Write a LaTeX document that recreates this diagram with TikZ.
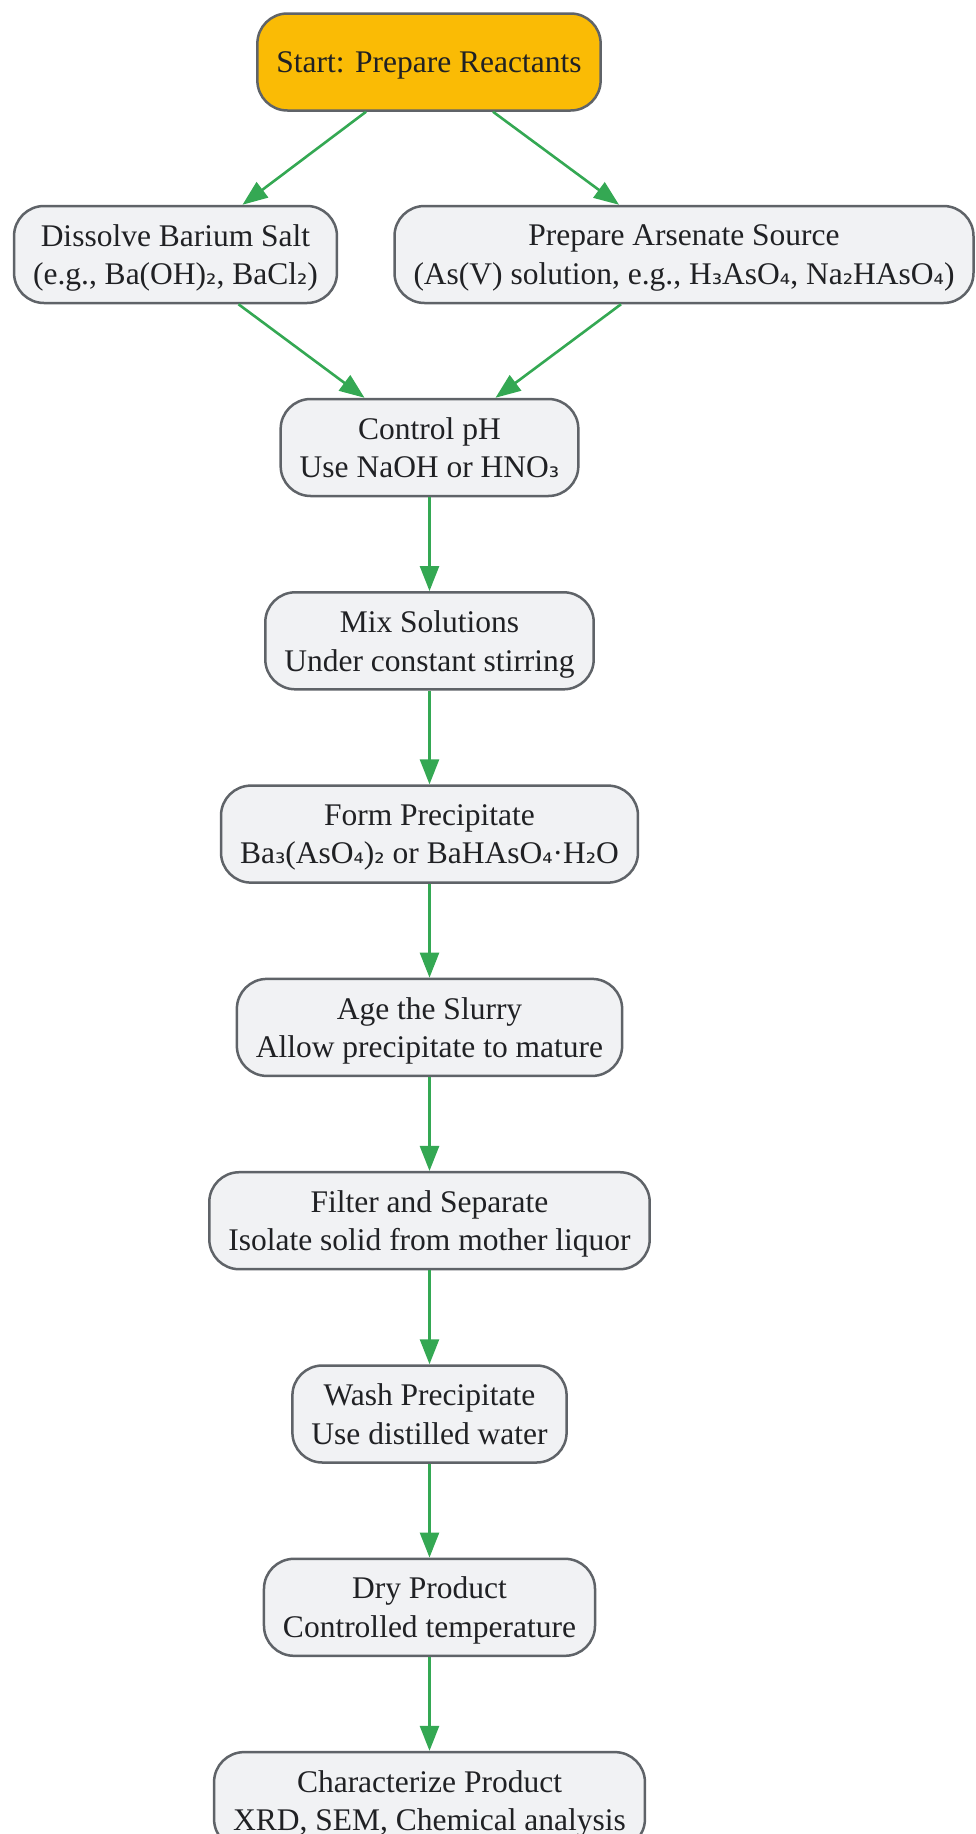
\documentclass[tikz,border=0pt]{standalone}
\usepackage{fontspec}
\setmainfont{Liberation Serif}
\newfontfamily\subdigits{DejaVu Sans}[Scale=0.82]
\newcommand{\low}[1]{{\subdigits #1}}
\usetikzlibrary{arrows.meta,positioning}
\definecolor{startfill}{HTML}{FABB05}
\definecolor{stepfill}{HTML}{F1F2F4}
\definecolor{boxline}{HTML}{5F6368}
\definecolor{flowgreen}{HTML}{34A853}
\definecolor{boxtext}{HTML}{202124}
\tikzset{
  basic/.style    = {draw=boxline, line width=2.5pt, rectangle, rounded corners=30pt,
                     align=center, minimum height=97pt, inner xsep=19pt, text depth=-1pt,
                     text=boxtext, font=\fontsize{31.5}{38.6}\selectfont},
  startbox/.style = {basic, fill=startfill},
  stepbox/.style  = {basic, fill=stepfill},
  flow/.style     = {-{Triangle[length=25pt,width=19pt]}, draw=flowgreen, line width=2.6pt}
}

\begin{document}
\begin{tikzpicture}[x=1pt, y=1pt, node distance=93.8pt]
	\useasboundingbox (0,0) rectangle (976,-1834);
	
	% start of the flow
	\node[startbox] (start) at (429,-62) {Start: Prepare Reactants};
	
	% the two reactant branches
	\node[stepbox] (barium) at (175.5,-254.5)
	{Dissolve Barium Salt\\(e.g., Ba(OH)\low{₂}, BaCl\low{₂})};
	\node[stepbox] (arsenate) at (684,-254.5)
	{Prepare Arsenate Source\\(As(V) solution, e.g., H\low{₃}AsO\low{₄}, Na\low{₂}HAsO\low{₄})};
	
	% the main chain, relatively positioned nodes
	\node[stepbox] (ph) at (429.5,-447.5) {Control pH\\Use NaOH or HNO\low{₃}};
	\node[stepbox, below=of ph] (mix) {Mix Solutions\\Under constant stirring};
	\node[stepbox, below=of mix] (form)
	{Form Precipitate\\Ba\low{₃}(AsO\low{₄})\low{₂} or BaHAsO\low{₄}·H\low{₂}O};
	\node[stepbox, below=of form] (age) {Age the Slurry\\Allow precipitate to mature};
	\node[stepbox, below=of age] (filter) {Filter and Separate\\Isolate solid from mother liquor};
	\node[stepbox, below=of filter] (wash) {Wash Precipitate\\Use distilled water};
	\node[stepbox, below=of wash] (dry) {Dry Product\\Controlled temperature};
	\node[stepbox, below=of dry] (char) {Characterize Product\\XRD, SEM, Chemical analysis};
	
	% lines into and out of the branches
	\draw[flow] ([xshift=-63pt]start.south) -- ([xshift=67pt]barium.north);
	\draw[flow] ([xshift=64pt]start.south) -- ([xshift=-65pt]arsenate.north);
	\draw[flow] ([xshift=63pt]barium.south) -- ([xshift=-65pt]ph.north);
	\draw[flow] ([xshift=-63pt]arsenate.south) -- ([xshift=66pt]ph.north);
	
	% lines down the main chain
	\foreach \a/\b in {ph/mix, mix/form, form/age, age/filter, filter/wash, wash/dry, dry/char}
	  \draw[flow] (\a) -- (\b);
	
\end{tikzpicture}
\end{document}
